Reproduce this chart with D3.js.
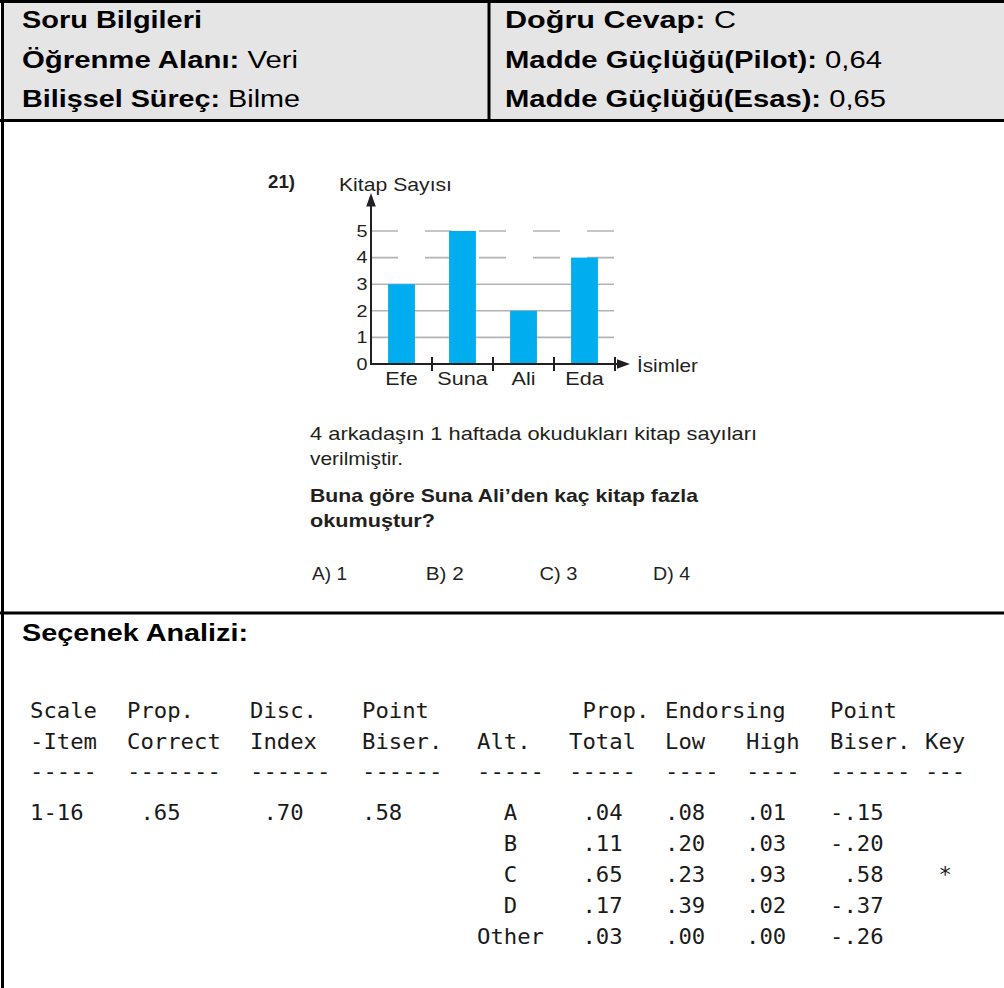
<!DOCTYPE html>
<html><head><meta charset="utf-8">
<script src="https://cdn.jsdelivr.net/npm/d3@7"></script>
<style>html,body{margin:0;padding:0;background:#fff;overflow:hidden}text{white-space:pre}</style>
</head><body><svg id="c" width="1004" height="988"></svg>
<script>
// ---------- data ----------
const infoLeftLabels = ["Soru Bilgileri", "Öğrenme Alanı:", "Bilişsel Süreç:"];
const infoLeftValues = ["", " Veri", " Bilme"];
const infoRightLabels = ["Doğru Cevap:", "Madde Güçlüğü(Pilot):", "Madde Güçlüğü(Esas):"];
const infoRightValues = [" C", " 0,64", " 0,65"];

const questionNo = "21)";
const names = ["Efe", "Suna", "Ali", "Eda"];
const books = [3, 5, 2, 4];
const yTicks = [0, 1, 2, 3, 4, 5];
const yTitle = "Kitap Sayısı";
const xTitle = "İsimler";
const stemLines = ["4 arkadaşın 1 haftada okudukları kitap sayıları", "verilmiştir."];
const questionLines = ["Buna göre Suna Ali’den kaç kitap fazla", "okumuştur?"];
const options = ["A) 1", "B) 2", "C) 3", "D) 4"];

const sectionTitle = "Seçenek Analizi:";
const tableHead1 = ["Scale", "Prop.", "Disc.", "Point", "", " Prop.", "Endorsing", "", "Point", ""];
const tableHead2 = ["-Item", "Correct", "Index", "Biser.", "Alt.", "Total", "Low", "High", "Biser.", "Key"];
const tableRule = ["-----", "-------", "------", "------", "-----", "-----", "----", "----", "------", "---"];
const itemSummary = ["1-16", ".65", ".70", ".58"];
const alts = ["A", "B", "C", "D", "Other"];
const propTotal = [".04", ".11", ".65", ".17", ".03"];
const propLow = [".08", ".20", ".23", ".39", ".00"];
const propHigh = [".01", ".03", ".93", ".02", ".00"];
const pointBiser = ["-.15", "-.20", ".58", "-.37", "-.26"];
const keyMark = ["", "", "*", "", ""];

// ---------- layout / style ----------
const SANS = "'Liberation Sans', Arial, Helvetica, sans-serif";
const MONO = "'DejaVu Sans Mono', monospace";
const INK = "#231f20";
const SX = 1.2;              // horizontal stretch of the scanned picture
const CW = 13.4;             // monospace advance in the table
const colX = [30, 127, 250, 362, 477, 569, 665, 746, 830, 925];

const svg = d3.select("#c");
svg.append("rect").attr("width", 1004).attr("height", 988).attr("fill", "#fff");

function addText(parent, o) {
  const t = parent.append("text")
    .attr("x", o.x).attr("y", o.y)
    .attr("font-family", o.family || SANS)
    .attr("font-size", o.size)
    .attr("fill", o.fill || "#000")
    .attr("text-anchor", o.anchor || "start");
  o.parts.forEach(p => {
    t.append("tspan").attr("font-weight", p.bold ? "bold" : "normal").text(p.t);
  });
  if (o.width) t.attr("textLength", o.width).attr("lengthAdjust", "spacingAndGlyphs");
  return t;
}

// ---------- header box ----------
svg.append("rect").attr("x", 3).attr("y", 2).attr("width", 1001).attr("height", 118).attr("fill", "#e5e5e5");
const headBase = [28, 67.5, 107];
const leftW = [180, 276, 278], rightW = [231, 377, 381];
infoLeftLabels.forEach((l, i) => addText(svg, {x: 22, y: headBase[i], size: 23.5,
  parts: [{t: l, bold: true}, {t: infoLeftValues[i]}], width: leftW[i]}));
infoRightLabels.forEach((l, i) => addText(svg, {x: 505, y: headBase[i], size: 23.5,
  parts: [{t: l, bold: true}, {t: infoRightValues[i]}], width: rightW[i]}));

const borders = svg.append("g").attr("stroke", "#000").attr("stroke-width", 3);
borders.append("line").attr("x1", 0).attr("x2", 1004).attr("y1", 1.5).attr("y2", 1.5);
borders.append("line").attr("x1", 2.5).attr("x2", 2.5).attr("y1", 0).attr("y2", 988);
borders.append("line").attr("x1", 0).attr("x2", 1004).attr("y1", 120.5).attr("y2", 120.5);
borders.append("line").attr("x1", 489).attr("x2", 489).attr("y1", 0).attr("y2", 121);
borders.append("line").attr("x1", 0).attr("x2", 1004).attr("y1", 613).attr("y2", 613);

// ---------- chart ----------
const g = svg.append("g");
const x = d3.scaleBand().domain(names).range([371, 615]).paddingInner(0.56).paddingOuter(0.28);
const y = d3.scaleLinear().domain([0, 5]).range([364, 231]);

// grid lines
g.append("g").selectAll("line").data(yTicks.filter(d => d > 0)).join("line")
  .attr("x1", 371).attr("x2", 614)
  .attr("y1", d => y(d)).attr("y2", d => y(d))
  .attr("stroke", "#b3b3b3").attr("stroke-width", 1.6)
  .attr("stroke-dasharray", d => d >= 4 ? "27,27" : null);

// bars
g.append("g").selectAll("rect").data(names).join("rect")
  .attr("x", d => x(d)).attr("width", x.bandwidth())
  .attr("y", (d, i) => y(books[i]))
  .attr("height", (d, i) => y(0) - y(books[i]))
  .attr("fill", "#00aeef");

// y axis labels
const yAxis = g.append("g").attr("transform", "translate(371,0)")
  .call(d3.axisLeft(y).tickValues(yTicks).tickFormat(d3.format("d")).tickSize(0).tickPadding(4));
yAxis.select(".domain").remove();
yAxis.selectAll("text").attr("font-family", SANS).attr("font-size", 16.5).attr("fill", INK)
  .attr("transform", `scale(${SX},1)`).attr("x", -3.5 / SX);

// x axis labels
const xAxis = g.append("g").attr("transform", "translate(0,364)")
  .call(d3.axisBottom(x).tickSize(0).tickPadding(8.2));
xAxis.select(".domain").remove();
xAxis.selectAll("text").attr("font-family", SANS).attr("font-size", 18).attr("fill", INK)
  .attr("transform", `scale(${SX},1)`);
xAxis.selectAll(".tick").attr("transform", d => `translate(${x(d) + x.bandwidth() / 2},0)`);

// axis lines, arrows, ticks
const ax = g.append("g").attr("stroke", INK).attr("stroke-width", 2);
ax.append("line").attr("x1", 371).attr("x2", 371).attr("y1", y(0) + 1).attr("y2", 200);
ax.append("line").attr("x1", 370).attr("x2", 622).attr("y1", y(0)).attr("y2", y(0));
ax.selectAll(".tk").data(names).join("line").attr("class", "tk")
  .attr("x1", d => x(d) + x.bandwidth() + (x.step() - x.bandwidth()) / 2)
  .attr("x2", d => x(d) + x.bandwidth() + (x.step() - x.bandwidth()) / 2)
  .attr("y1", y(0) - 7).attr("y2", y(0) + 7);
g.append("path").attr("d", "M371,193 L366.2,206.5 L375.8,206.5 Z").attr("fill", INK);
g.append("path").attr("d", "M630,364 L617,359.2 L617,368.8 Z").attr("fill", INK);

addText(g, {x: 268, y: 188, size: 18, parts: [{t: questionNo, bold: true}], width: 27, fill: INK});
addText(g, {x: 339, y: 190.5, size: 18.5, parts: [{t: yTitle}], width: 113, fill: INK});
addText(g, {x: 637, y: 372, size: 18.5, parts: [{t: xTitle}], width: 61, fill: INK});

// question text
const stemW = [447, 93], qW = [388, 125];
stemLines.forEach((s, i) => addText(g, {x: 310, y: 440 + i * 25, size: 18.5, parts: [{t: s}], width: stemW[i], fill: INK}));
questionLines.forEach((s, i) => addText(g, {x: 310, y: 502 + i * 25, size: 18.5, parts: [{t: s, bold: true}], width: qW[i], fill: INK}));
const optW = [35, 38, 38, 37];
options.forEach((s, i) => addText(g, {x: 312 + i * 113.7, y: 580, size: 17.5, parts: [{t: s}], width: optW[i], fill: INK}));

// ---------- option analysis ----------
addText(svg, {x: 22, y: 641, size: 23.5, parts: [{t: sectionTitle, bold: true}], width: 226});

const tbl = svg.append("g").attr("fill", "#1a1a1a");
function cell(col, y0, s, pad) {
  const str = pad ? s.padStart(pad) : s;
  if (!str.trim()) return;
  tbl.append("text").attr("x", colX[col]).attr("y", y0)
    .attr("font-family", MONO).attr("font-size", 21.5)
    .attr("textLength", str.length * CW).attr("lengthAdjust", "spacingAndGlyphs")
    .text(str);
}
tableHead1.forEach((s, i) => cell(i, 718, s));
tableHead2.forEach((s, i) => cell(i, 749, s));
tableRule.forEach((s, i) => cell(i, 779, s));
const itemPad = [4, 4, 4, 3];
itemSummary.forEach((s, i) => cell(i, 820, s, itemPad[i]));
const rowY = [820, 851, 882, 913, 944];
alts.forEach((a, r) => {
  cell(4, rowY[r], a, 3);
  cell(5, rowY[r], propTotal[r], 4);
  cell(6, rowY[r], propLow[r], 3);
  cell(7, rowY[r], propHigh[r], 3);
  cell(8, rowY[r], pointBiser[r], 4);
  cell(9, rowY[r], keyMark[r], 2);
});
</script></body></html>
